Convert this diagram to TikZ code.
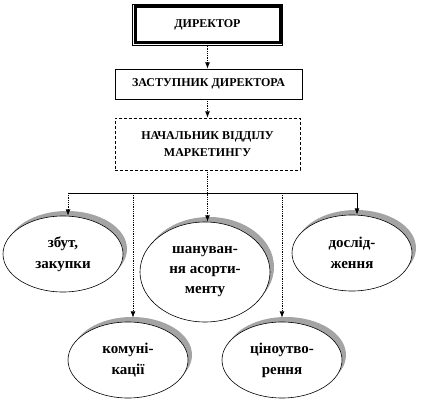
\documentclass[tikz,border=0pt]{standalone}
\usepackage{fontspec}
\setmainfont{Liberation Serif}
\usetikzlibrary{arrows.meta, positioning, calc, fit, shapes.geometric, shadows}
\definecolor{sshade}{HTML}{A4A4A4}
\tikzset{
  >={Latex[length=2.2mm,width=1.7mm]},
  box/.style={
    draw, line width=0.6pt, fill=white, align=center, inner sep=2pt,
    font=\fontsize{12}{17}\selectfont\bfseries
  },
  bossbox/.style={box, line width=3pt, minimum width=145pt, minimum height=36pt},
  oval/.style={
    ellipse, draw, fill=white, line width=0.6pt, inner sep=0pt,
    minimum width=120pt, minimum height=76pt, align=center,
    font=\fontsize{15}{21}\selectfont\bfseries,
    drop shadow={shadow xshift=4pt, shadow yshift=5pt, fill=sshade, opacity=1}
  },
  link/.style={->, line width=0.8pt, densely dotted},
  bus/.style={line width=0.8pt}
}
\begin{document}
\begin{tikzpicture}[x=1pt, y=-1pt]
  \useasboundingbox (0,0) rectangle (424,401);
  % top of the chart
  \node[bossbox] (dir) at (207.5,25) {ДИРЕКТОР};
  \node[draw, line width=0.6pt, fit=(dir), inner sep=1pt] (dirframe) {};
  \node[box, minimum width=187pt, minimum height=30pt] (dep) at (208.5,84) {ЗАСТУПНИК ДИРЕКТОРА};
  \node[box, densely dashed, minimum width=185pt, minimum height=52pt] (head) at (207.5,144)
    {НАЧАЛЬНИК ВІДДІЛУ\\МАРКЕТИНГУ};
  % functions
  \node[oval] (sales) at (63,254) {збут,\\закупки};
  \node[oval, minimum width=130pt, minimum height=100pt, font=\fontsize{15}{20}\selectfont\bfseries]
    (range) at (205,272) {шануван-\\ня асорти-\\менту};
  \node[oval] (study) at (352,253) {дослід-\\ження};
  \node[oval] (comm) at (128,360) {комуні-\\кації};
  \node[oval] (price) at (282,360) {ціноутво-\\рення};
  % connectors
  \coordinate (b1) at (68,193);
  \coordinate (b2) at (133,193);
  \coordinate (b4) at (282,193);
  \coordinate (b5) at (357,193);
  \draw[link] (dirframe.south) -- (dirframe.south |- dep.north);
  \draw[link] (dep.south -| dirframe.south) -- (dirframe.south |- head.north);
  \draw[bus] (b1) -- (b5);
  \draw[link] (b1) -- (b1 |- sales.north);
  \draw[link] (head.south) -- (head.south |- range.north);
  \draw[link, solid] (b5) -- (b5 |- study.north);
  \draw[link] (b2) -- ($(b2 |- comm.north)+(0,-4)$);
  \draw[link] (b4) -- ($(b4 |- price.north)+(0,-4)$);
\end{tikzpicture}
\end{document}
